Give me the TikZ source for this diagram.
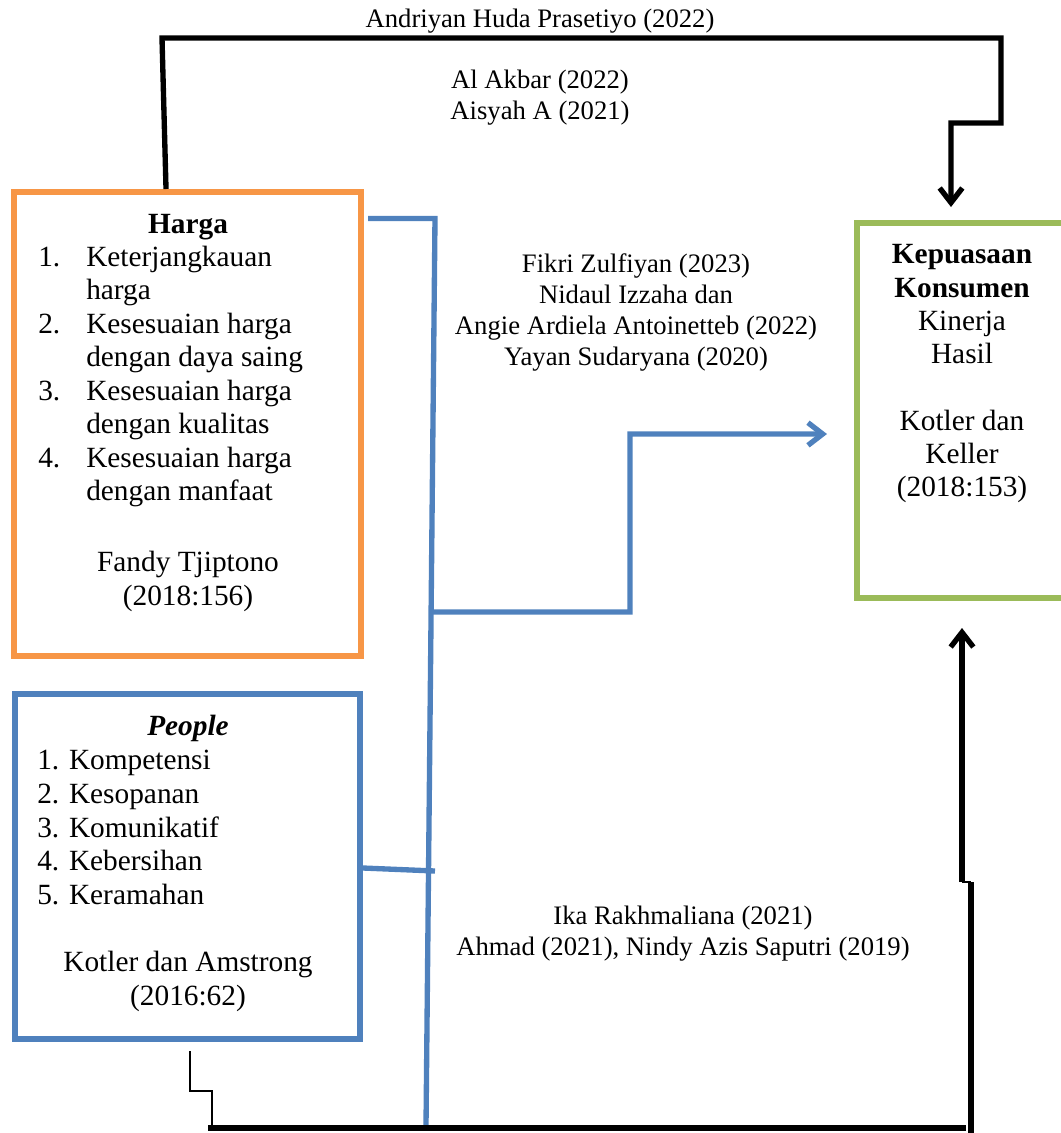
\documentclass[tikz,border=0pt]{standalone}
\usepackage{fontspec}
\setmainfont{Liberation Serif}
\usetikzlibrary{arrows.meta,calc}
\definecolor{cOrange}{HTML}{F79646}
\definecolor{cBlue}{HTML}{4F81BD}
\definecolor{cGreen}{HTML}{9BBB59}
\tikzset{
  boxframe/.style={draw, line width=4.5pt, inner sep=0pt, fill=none},
  bx/.style={font=\fontsize{22}{25}\selectfont, inner sep=0pt, anchor=base},
  bxl/.style={bx, anchor=base west},
  lb/.style={font=\fontsize{20}{23}\selectfont, inner sep=0pt, anchor=base},
  blk/.style={draw=black, line width=4pt},
  blkthin/.style={draw=black, line width=2pt},
  blu/.style={draw=cBlue, line width=4pt},
  barb/.style={-{Straight Barb[length=11pt,width=17pt]}}
}
\begin{document}
\begin{tikzpicture}[x=0.75pt,y=-0.75pt]
\useasboundingbox (0,0) rectangle (1061,1133);
\clip (0,0) rectangle (1061,1133);

% boxes
\node[boxframe, draw=cOrange, minimum width=259.9pt, minimum height=348pt] (harga) at (187.75,424) {};
\node[boxframe, draw=cBlue, minimum width=259.1pt, minimum height=258.4pt] (people) at (187.25,866.75) {};
\node[boxframe, draw=cGreen, minimum width=159.75pt, minimum height=281.6pt] (kepuasan) at (963.5,410.75) {};

% Harga text
\node[bx] (tHarga) at (188,233) {\bfseries Harga};
\foreach \y/\n [count=\i] in {266/1., 333/2., 400.5/3., 467.5/4.}
  \node[bxl] (hn\i) at (38,\y) {\n};
\foreach \y/\t [count=\i] in {266/Keterjangkauan, 299.5/harga, 333/Kesesuaian harga, 366.5/dengan daya saing, 400.5/Kesesuaian harga, 433.5/dengan kualitas, 467.5/Kesesuaian harga, 500.5/dengan manfaat}
  \node[bxl] (ht\i) at (86,\y) {\t};
\node[bx] (hsrc1) at (188,571) {Fandy Tjiptono};
\node[bx] (hsrc2) at (188,605) {(2018:156)};

% People text
\node[bx] (tPeople) at (188,735) {\bfseries\itshape People};
\foreach \y/\t [count=\i] in {769/1. Kompetensi, 803/2. Kesopanan, 837/3. Komunikatif, 870.5/4. Kebersihan, 904/5. Keramahan}
  \node[bxl] (pt\i) at (37,\y) {\t};
\node[bx] (psrc1) at (188,971) {Kotler dan Amstrong};
\node[bx] (psrc2) at (188,1005) {(2016:62)};

% Kepuasan text
\node[bx] (tK1) at (962,263) {\bfseries Kepuasaan};
\node[bx] (tK2) at (962,297) {\bfseries Konsumen};
\node[bx] (kt1) at (962,330) {Kinerja};
\node[bx] (kt2) at (962,363.5) {Hasil};
\node[bx] (ksrc1) at (962,430) {Kotler dan};
\node[bx] (ksrc2) at (962,463.5) {Keller};
\node[bx] (ksrc3) at (962,496.5) {(2018:153)};

% labels
\node[lb] (lTop) at (540,27.5) {Andriyan Huda Prasetiyo (2022)};
\node[lb] (lAl1) at (540,88.5) {Al Akbar (2022)};
\node[lb] (lAl2) at (540,119) {Aisyah A (2021)};
\node[lb] (lF1) at (636,272) {Fikri Zulfiyan (2023)};
\node[lb] (lF2) at (636,303) {Nidaul Izzaha dan};
\node[lb] (lF3) at (636,334) {Angie Ardiela Antoinetteb (2022)};
\node[lb] (lF4) at (636,365) {Yayan Sudaryana (2020)};
\node[lb] (lI1) at (683,924) {Ika Rakhmaliana (2021)};
\node[lb] (lI2) at (683,955) {Ahmad (2021), Nindy Azis Saputri (2019)};

% coordinates
\coordinate (hStart) at (368,218.5);
\coordinate (bTop) at (435,218.5);
\coordinate (bBot) at (426,1126);
\coordinate (bJoin) at ($(bTop)!0.4336!(bBot)$);
\coordinate (pRow) at (0,868);
\coordinate (pEnd) at (435,871);
\coordinate (kTopTip) at (951,207);
\coordinate (kBotTip) at (962,628);
\coordinate (kBlueTip) at (827,434);
\coordinate (bottomEnd) at (966,1128);
\coordinate (rightFoot) at (971,1140);

% black top connector Harga -> Kepuasan
\draw[blk, barb] ([xshift=-16.3pt]harga.north) -- (162,38) -- (1001,38) -- (1001,123) -- (951,123) -- (kTopTip);

% blue connectors
\draw[blu] (hStart) -- (bTop) -- (bBot);
\draw[blu] (people.east |- pRow) -- (pEnd);
\draw[blu, barb] (bJoin) -- (630,612) -- (630,434) -- (kBlueTip);

% black bottom connector People -> Kepuasan
\draw[blkthin] ([xshift=2pt,yshift=-6.75pt]people.south) -- ++(0,40) -- ++(22,0) -- ++(0,40);
\draw[blk] (208,1128) -- (bottomEnd);
\draw[blk] (rightFoot) -- (971,882);
\draw[blkthin] (971,882) -- (962,882);
\draw[blk, barb] (962,882) -- (kBotTip);
\end{tikzpicture}
\end{document}
